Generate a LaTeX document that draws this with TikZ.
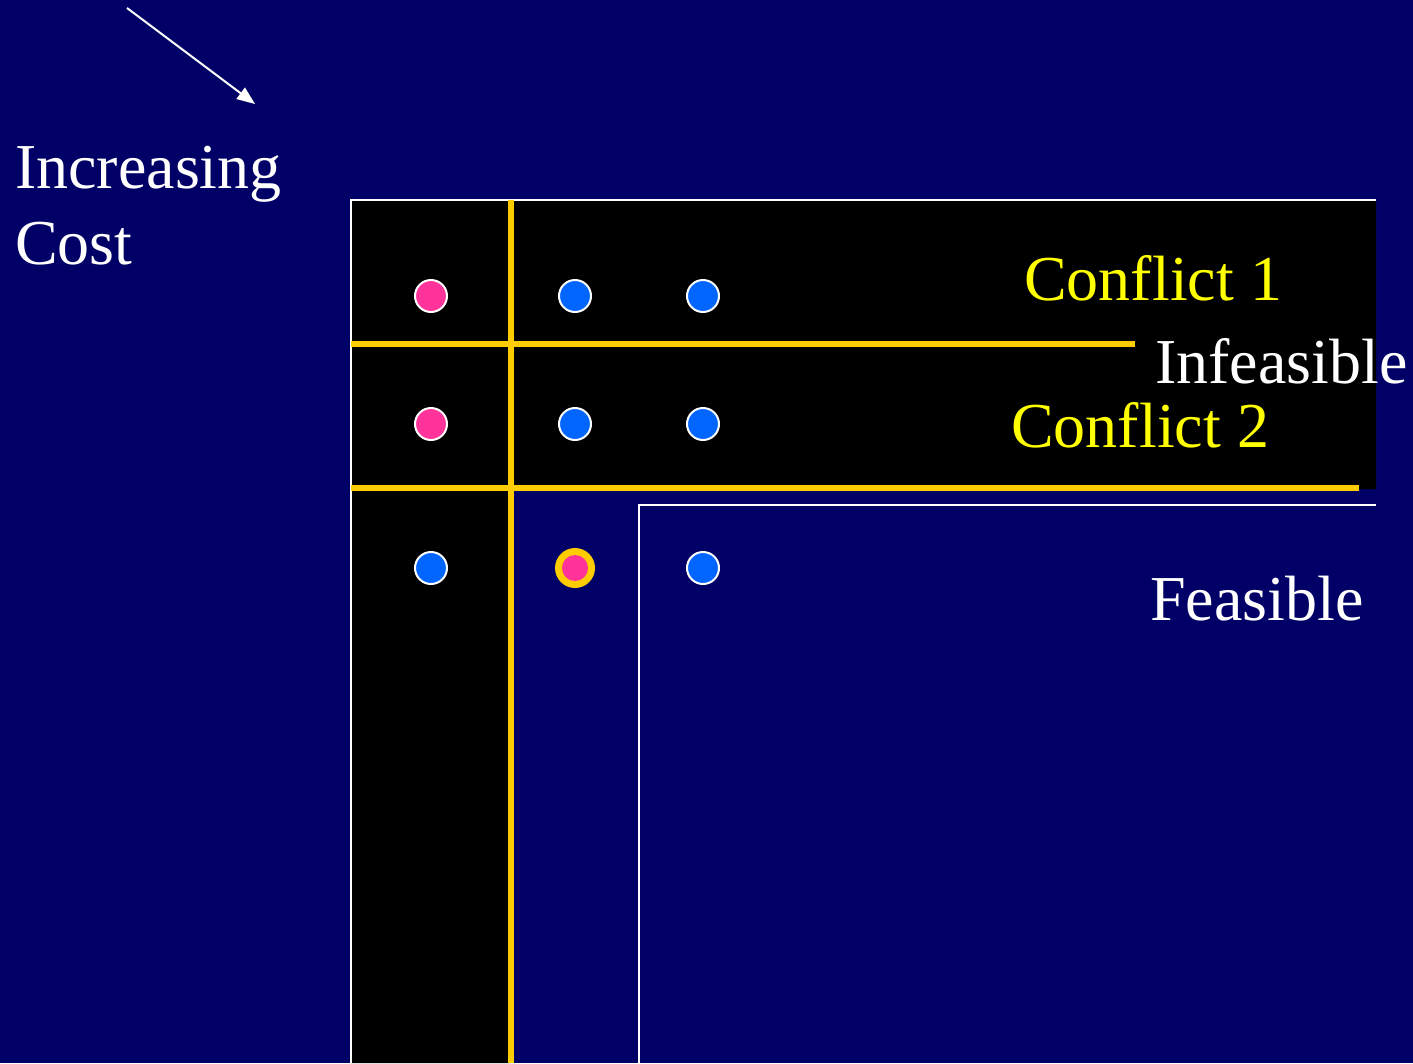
\documentclass[tikz,border=0pt]{standalone}
\usepackage{fontspec}
\setmainfont{Liberation Serif}
\usetikzlibrary{arrows.meta}
\definecolor{navy}{RGB}{0,0,102}
\definecolor{barrier}{RGB}{255,204,0}
\definecolor{hilite}{RGB}{255,255,0}
\definecolor{conflictpt}{RGB}{255,51,153}
\definecolor{freept}{RGB}{0,102,255}
\tikzset{
  big/.style={font=\fontsize{64}{77}\selectfont, inner sep=0pt, anchor=base west},
  edge/.style={white, line width=2.5pt},
  bar/.style={barrier, line width=6pt},
  dot/.style={circle, minimum size=32pt, inner sep=0pt, draw=white, line width=2pt},
  reddot/.style={dot, fill=conflictpt},
  bluedot/.style={dot, fill=freept},
}
\begin{document}
\begin{tikzpicture}[x=1pt,y=-1pt]
  % background
  \fill[navy] (0,0) rectangle (1413,1063);
  \useasboundingbox (0,0) rectangle (1413,1063);

  % infeasible (black) L-shaped region
  \fill[black] (351,200) -- (1376,200) -- (1376,489) -- (511,489) -- (511,1063) -- (351,1063) -- cycle;

  % white borders
  \draw[edge] (1376,200) -- (351,200) -- (351,1063);
  \draw[edge] (1376,505) -- (639,505) -- (639,1063);

  % conflict constraints
  \draw[bar] (511,200) -- (511,1063);
  \draw[bar] (351,344) -- (1135,344);
  \draw[bar] (351,488) -- (1359,488);

  % grid of candidate points
  \node[reddot]  (p11) at (431,296) {};
  \node[bluedot] (p12) at (575,296) {};
  \node[bluedot] (p13) at (703,296) {};
  \node[reddot]  (p21) at (431,424) {};
  \node[bluedot] (p22) at (575,424) {};
  \node[bluedot] (p23) at (703,424) {};
  \node[bluedot] (p31) at (431,568) {};
  \node[circle, minimum size=40pt, inner sep=0pt, fill=barrier] (p32) at (575,568) {};
  \node[circle, minimum size=26pt, inner sep=0pt, fill=conflictpt] at (p32) {};
  \node[bluedot] (p33) at (703,568) {};

  % labels
  \node[big, white] (inc) at (15,188) {Increasing};
  \node[big, white] (cost) at (15,264) {Cost};
  \node[big, hilite] (c1) at (1024,300) {Conflict 1};
  \node[big, white] (inf) at (1155,383) {Infeasible};
  \node[big, hilite] (c2) at (1011,447) {Conflict 2};
  \node[big, white] (fea) at (1150,620) {Feasible};

  % cost direction arrow
  \coordinate (a0) at (127,8);
  \coordinate (a1) at (255,104);
  \draw[white, line width=2pt, -{Triangle[length=18pt,width=14pt]}] (a0) -- (a1);
\end{tikzpicture}
\end{document}
